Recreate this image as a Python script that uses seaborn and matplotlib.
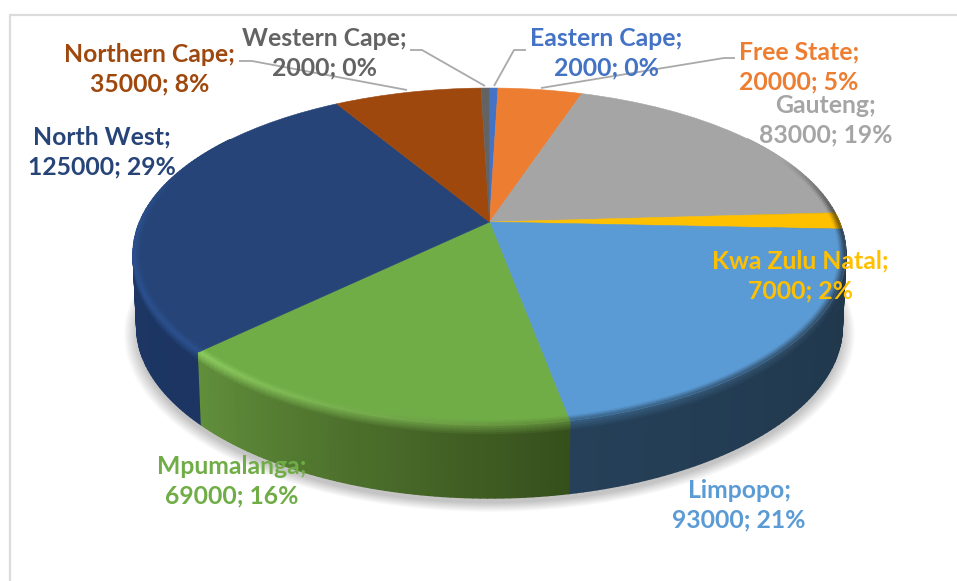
import numpy as np
import matplotlib
matplotlib.use("Agg")
import matplotlib.pyplot as plt
from matplotlib.collections import PolyCollection
from matplotlib.colors import to_rgb
from matplotlib.patches import Polygon
from matplotlib.transforms import Transform
import seaborn as sns

provinces = ["Eastern Cape", "Free State", "Gauteng", "Kwa Zulu Natal", "Limpopo",
             "Mpumalanga", "North West", "Northern Cape", "Western Cape"]
workers = [2000, 20000, 83000, 7000, 93000, 69000, 125000, 35000, 2000]
slice_hex = ["#4472C4", "#ED7D31", "#A5A5A5", "#FFC000", "#5B9BD5",
             "#70AD47", "#264478", "#9E480E", "#636363"]
side_start = ["#2c4a80", "#9a5220", "#3b3b3b", "#6b5200", "#1f3549",
              "#364f1c", "#1c3562", "#66300a", "#404040"]
side_end = ["#2c4a80", "#9a5220", "#3b3b3b", "#6b5200", "#254058",
            "#618f3b", "#1f3a68", "#66300a", "#404040"]
rim_start = ["#4472C4", "#ED7D31", "#A5A5A5", "#6b5200", "#2a3a4a",
             "#5f8a3a", "#2c5290", "#9E480E", "#636363"]
rim_end = ["#4472C4", "#ED7D31", "#4a4a4a", "#6b5200", "#3a6488",
           "#8fd062", "#2c5290", "#9E480E", "#636363"]
label_xy = [(606, 53), (799, 67), (826, 120), (800, 276), (739, 505),
            (232, 481), (102, 152), (149.5, 69), (324, 53)]

sns.set_theme(style="white")
plt.rcParams["font.family"] = ["Lato", "DejaVu Sans"]
palette = sns.color_palette(slice_hex)

CX, CY, A, B, K, KX, DEPTH = 489.5, 222.0, 161.4, 349.8, 0.2047, 0.19, 73.0


def project(r, theta, z=0.0):
    x = r * np.sin(theta)
    v = r * np.cos(theta)
    return CX + B * x / (1 + KX * v) * (1 - 0.01 * z / DEPTH), CY - A * v / (1 + K * v) + z


class Tilt(Transform):
    input_dims = output_dims = 2
    is_separable = False
    has_inverse = False

    def transform_non_affine(self, xy):
        xy = np.asarray(xy, float)
        return np.column_stack([CX + B * xy[:, 0] / (1 + KX * xy[:, 1]),
                                CY - A * xy[:, 1] / (1 + K * xy[:, 1])])


def mix(a, b, t):
    a, b = np.array(to_rgb(a)), np.array(to_rgb(b))
    return tuple(a + (b - a) * t)


fig = plt.figure(figsize=(9.57, 5.81), dpi=100, facecolor="white")
ax = fig.add_axes([0, 0, 1, 1])
wedges, _ = ax.pie(workers, colors=palette, startangle=90, counterclock=False, radius=1,
                   wedgeprops={"linewidth": 0.4, "zorder": 5})
for w, c in zip(wedges, palette):
    w.set_edgecolor(c)
    w.set_transform(Tilt() + ax.transData)
ax.set_aspect("auto")
ax.set_xlim(0, 957)
ax.set_ylim(581, 0)
ax.set_position([0, 0, 1, 1])
ax.axis("off")

edges = np.radians(np.concatenate([[0], np.cumsum(workers)]) / np.sum(workers) * 360)

# chart frame
ax.plot([957, 10, 10], [15, 15, 581], color="#dcdcdc", lw=1.6, zorder=0, solid_joinstyle="miter")

# soft shadow under the disc
ring = np.linspace(0, 2 * np.pi, 361)
for d in np.linspace(0.035, 0.0, 12):
    sx, sy = project(1 + d, ring, DEPTH + 5)
    ax.add_patch(Polygon(np.column_stack([sx, sy]), closed=True, facecolor="black",
                         edgecolor="none", alpha=0.019, zorder=1))

# side wall and bevel
polys, cols, mids = [], [], []
wall_levels = [0, 2, 4, 6, 8, 10, 12, DEPTH]
ring_levels = [0.98, 0.985, 0.99, 0.995, 1.0]
rim_polys, rim_cols = [], []
for i in range(len(workers)):
    n = max(2, int(np.degrees(edges[i + 1] - edges[i])) + 1)
    ths = np.linspace(edges[i], edges[i + 1], n + 1)
    for j in range(n):
        t0, t1 = ths[j], ths[j + 1]
        tm = (t0 + t1) / 2
        f = (tm - edges[i]) / (edges[i + 1] - edges[i])
        deg = np.degrees(tm)
        if deg < 55 or deg > 305:
            continue
        side = mix(side_start[i], side_end[i], f)
        rim = mix(rim_start[i], rim_end[i], f)
        if provinces[i] == "Gauteng":
            rim = mix(slice_hex[i], "#4a4a4a", np.clip((deg - 65) / 22, 0, 1))
        if provinces[i] == "North West":
            rim = mix("#2c5290", slice_hex[i], np.clip((deg - 270) / 25, 0, 1))
        for k in range(len(wall_levels) - 1):
            z0, z1 = wall_levels[k], wall_levels[k + 1]
            xa, ya = project(1.0, np.array([t0, t1]), z0)
            xb, yb = project(1.0, np.array([t1, t0]), z1)
            polys.append(np.column_stack([np.r_[xa, xb], np.r_[ya, yb]]))
            cols.append(mix(rim, side, min(1, (z0 + 1) / 11)))
            mids.append(np.cos(tm))
        for k in range(len(ring_levels) - 1):
            r0, r1 = ring_levels[k], ring_levels[k + 1]
            xa, ya = project(r0, np.array([t0, t1]))
            xb, yb = project(r1, np.array([t1, t0]))
            rim_polys.append(np.column_stack([np.r_[xa, xb], np.r_[ya, yb]]))
            rim_cols.append(mix(slice_hex[i], rim, (k + 0.5) / (len(ring_levels) - 1)))

order = np.argsort(-np.array(mids), kind="stable")
ax.add_collection(PolyCollection([polys[o] for o in order], facecolors=[cols[o] for o in order],
                                 edgecolors=[cols[o] for o in order], linewidths=1.1, zorder=3),
                  autolim=False)
ax.add_collection(PolyCollection(rim_polys, facecolors=rim_cols, edgecolors=rim_cols,
                                 linewidths=0.4, zorder=6), autolim=False)

# leader lines
leader_kw = dict(color="#a9a9a9", lw=1.3, zorder=7, solid_capstyle="butt")
ax.plot([239, 252, 407], [61, 61, 90], **leader_kw)
ax.plot([410, 422, 485], [50, 50, 86], **leader_kw)
ax.plot([526, 514, 494], [50, 50, 86], **leader_kw)
ax.plot([735, 724, 541], [58, 58, 88], **leader_kw)

# data labels
total = sum(workers)
for name, val, col, (lx, ly) in zip(provinces, workers, slice_hex, label_xy):
    ax.text(lx, ly, f"{name};\n{val}; {round(val / total * 100)}%", color=col,
            ha="center", va="center", fontsize=17.8, fontweight="bold",
            linespacing=1.36, zorder=8)

fig.savefig("out.png", dpi=100, facecolor="white")
